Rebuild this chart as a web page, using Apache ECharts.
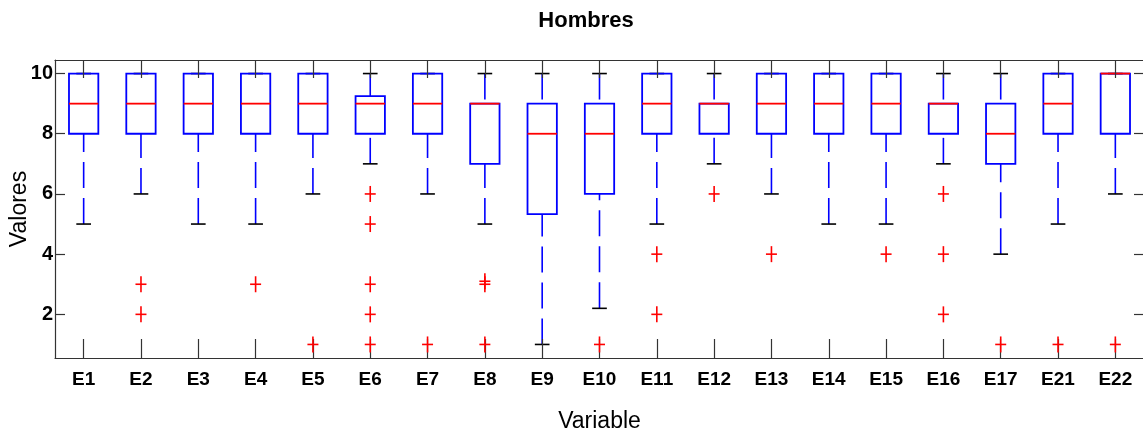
<!DOCTYPE html>
<html>
<head>
<meta charset="utf-8">
<script src="https://cdn.jsdelivr.net/npm/echarts@6/dist/echarts.min.js"></script>
<style>
  html, body { margin: 0; padding: 0; background: #ffffff; }
  #chart { width: 1143px; height: 434px; }
</style>
</head>
<body>
<div id="chart"></div>
<script>
// Boxplot summary per variable: whisker ends, quartiles, median, outliers
const categories  = ['E1','E2','E3','E4','E5','E6','E7','E8','E9','E10','E11','E12','E13','E14','E15','E16','E17','E21','E22'];
const whiskerLow  = [5, 6, 5, 5, 6, 7, 6, 5, 1,    2.2, 5, 7, 6, 5, 5, 7, 4, 5, 6];
const q1          = [8, 8, 8, 8, 8, 8, 8, 7, 5.33, 6,   8, 8, 8, 8, 8, 8, 7, 8, 8];
const median      = [9, 9, 9, 9, 9, 9, 9, 9, 8,    8,   9, 9, 9, 9, 9, 9, 8, 9, 10];
const q3          = [10,10,10,10,10,9.25,10,9,9,   9,   10,9, 10,10,10,9, 9, 10,10];
const whiskerHigh = [10,10,10,10,10,10,10,10,10,  10,  10,10,10,10,10,10,10,10,10];
const outliers    = [[], [3, 2], [], [3], [1], [6, 5, 3, 2, 1], [1], [3.1, 3, 1], [], [1],
                     [4, 2], [6], [4], [], [4], [6, 4, 2], [1], [1], [1]];
const yTicks = [2, 4, 6, 8, 10];

const BLUE = '#0000ff', RED = '#ff0000', BLACK = '#000000', AXIS = '#333333';
const FONT = '"Liberation Sans", Arial, sans-serif';

const boxData = categories.map((c, i) => [i, whiskerLow[i], q1[i], median[i], q3[i], whiskerHigh[i]]);
const outlierData = [];
outliers.forEach((list, i) => list.forEach(v => outlierData.push([i, v])));

function renderBox(params, api) {
  const i = api.value(0);
  const band = api.size([1, 0])[0];
  const half = band * 0.256;
  const capHalf = band * 0.128;
  const cx = api.coord([i, 5])[0];
  const y = v => api.coord([i, v])[1];
  const yLo = y(api.value(1)), yQ1 = y(api.value(2)), yMed = y(api.value(3));
  const yQ3 = y(api.value(4)), yHi = y(api.value(5));
  const dashed = { stroke: BLUE, lineWidth: 1.6, lineDash: [26, 10] };
  const kids = [];
  // dashed whiskers, drawn from the cap toward the box
  if (yLo !== yQ1) kids.push({ type: 'line', shape: { x1: cx, y1: yLo, x2: cx, y2: yQ1 }, style: dashed });
  if (yHi !== yQ3) kids.push({ type: 'line', shape: { x1: cx, y1: yHi, x2: cx, y2: yQ3 }, style: dashed });
  // whisker caps
  kids.push({ type: 'line', shape: { x1: cx - capHalf, y1: yLo, x2: cx + capHalf, y2: yLo }, style: { stroke: BLACK, lineWidth: 1.6 } });
  kids.push({ type: 'line', shape: { x1: cx - capHalf, y1: yHi, x2: cx + capHalf, y2: yHi }, style: { stroke: BLACK, lineWidth: 1.6 } });
  // interquartile box
  kids.push({ type: 'rect', shape: { x: cx - half, y: yQ3, width: half * 2, height: yQ1 - yQ3 },
              style: { fill: null, stroke: BLUE, lineWidth: 1.8 } });
  // median
  kids.push({ type: 'line', shape: { x1: cx - half, y1: yMed, x2: cx + half, y2: yMed }, style: { stroke: RED, lineWidth: 1.8 } });
  return { type: 'group', children: kids };
}

function renderOutlier(params, api) {
  const p = api.coord([api.value(0), api.value(1)]);
  const w = 5.5, h = 8;
  return {
    type: 'group',
    children: [
      { type: 'line', shape: { x1: p[0] - w, y1: p[1], x2: p[0] + w, y2: p[1] }, style: { stroke: RED, lineWidth: 1.6 } },
      { type: 'line', shape: { x1: p[0], y1: p[1] - h, x2: p[0], y2: p[1] + h }, style: { stroke: RED, lineWidth: 1.6 } }
    ]
  };
}

const chart = echarts.init(document.getElementById('chart'), null, { renderer: 'canvas' });

const yBase = {
  type: 'value', min: 0.55, max: 10.45, z: 3,
  axisLine: { show: true, lineStyle: { color: AXIS, width: 1.2 } },
  splitLine: { show: false },
  axisTick: { show: true, inside: true, length: 10, customValues: yTicks, lineStyle: { color: AXIS, width: 1.2 } }
};

chart.setOption({
  animation: false,
  backgroundColor: '#ffffff',
  grid: { left: 55, right: -1, top: 60, bottom: 76, containLabel: false, outerBoundsMode: 'none' },
  graphic: [{
    type: 'text', x: 586, y: 21,
    style: { text: 'Hombres', fill: '#000', font: 'bold 22px ' + FONT, textAlign: 'center', textVerticalAlign: 'middle' }
  }],
  xAxis: [{
    type: 'category', data: categories, position: 'bottom', z: 3,
    name: 'Variable', nameLocation: 'middle', nameGap: 52,
    nameTextStyle: { color: '#000', fontSize: 23, fontFamily: FONT },
    axisLine: { show: true, lineStyle: { color: AXIS, width: 1.2 } },
    axisTick: { show: true, inside: true, length: 19, alignWithLabel: true, lineStyle: { color: AXIS, width: 1.2 } },
    axisLabel: { margin: 12, color: '#000', fontSize: 19, fontWeight: 'bold', fontFamily: FONT, interval: 0 },
    splitLine: { show: false }
  }, {
    type: 'category', data: categories, position: 'top', z: 3,
    axisLine: { show: true, lineStyle: { color: AXIS, width: 1.2 } },
    axisTick: { show: true, inside: true, length: 18, alignWithLabel: true, lineStyle: { color: AXIS, width: 1.2 } },
    axisLabel: { show: false },
    splitLine: { show: false }
  }],
  yAxis: [Object.assign({}, yBase, {
    position: 'left',
    name: 'Valores', nameLocation: 'middle', nameGap: 24, nameMoveOverlap: false,
    nameTextStyle: { color: '#000', fontSize: 23, fontFamily: FONT },
    axisLabel: { margin: 2, color: '#000', fontSize: 20, fontWeight: 'bold', fontFamily: FONT, customValues: yTicks }
  }), Object.assign({}, yBase, {
    position: 'right',
    axisLabel: { show: false }
  })],
  series: [{
    type: 'custom', name: 'box', xAxisIndex: 0, yAxisIndex: 0, z: 2,
    renderItem: renderBox, data: boxData,
    encode: { x: 0, y: [1, 2, 3, 4, 5] }
  }, {
    type: 'custom', name: 'outliers', xAxisIndex: 0, yAxisIndex: 0, z: 4,
    renderItem: renderOutlier, data: outlierData,
    encode: { x: 0, y: 1 }
  }]
});
</script>
</body>
</html>
